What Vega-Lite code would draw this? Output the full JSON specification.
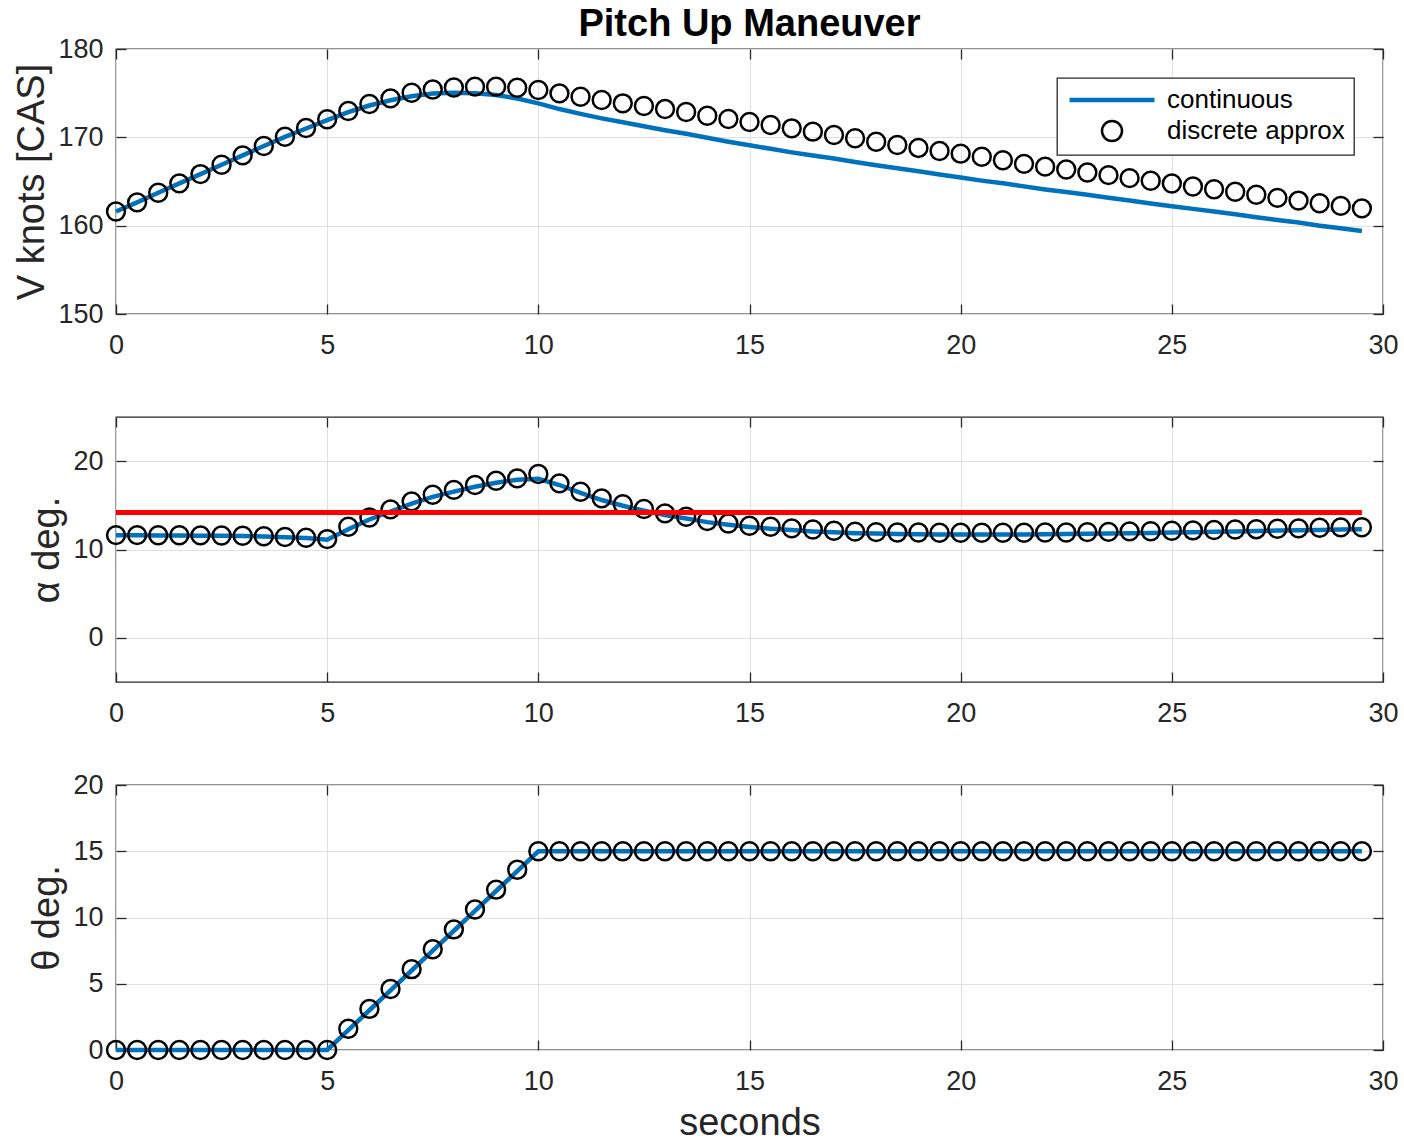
{
  "$schema": "https://vega.github.io/schema/vega-lite/v6.json",
  "padding": {"left": 13, "top": 5, "right": 5, "bottom": 5},
  "background": "white",
  "datasets": {
    "disc": [
      {"t": 0, "V": 161.6, "a": 11.63, "th": 0},
      {"t": 0.5, "V": 162.64, "a": 11.63, "th": 0},
      {"t": 1, "V": 163.73, "a": 11.62, "th": 0},
      {"t": 1.5, "V": 164.79, "a": 11.61, "th": 0},
      {"t": 2, "V": 165.84, "a": 11.6, "th": 0},
      {"t": 2.5, "V": 166.9, "a": 11.58, "th": 0},
      {"t": 3, "V": 167.96, "a": 11.55, "th": 0},
      {"t": 3.5, "V": 169.02, "a": 11.5, "th": 0},
      {"t": 4, "V": 170.07, "a": 11.42, "th": 0},
      {"t": 4.5, "V": 171.05, "a": 11.33, "th": 0},
      {"t": 5, "V": 172.04, "a": 11.18, "th": 0},
      {"t": 5.5, "V": 172.98, "a": 12.57, "th": 1.6},
      {"t": 6, "V": 173.77, "a": 13.63, "th": 3.1},
      {"t": 6.5, "V": 174.41, "a": 14.54, "th": 4.6},
      {"t": 7, "V": 175.05, "a": 15.45, "th": 6.1},
      {"t": 7.5, "V": 175.42, "a": 16.2, "th": 7.6},
      {"t": 8, "V": 175.64, "a": 16.75, "th": 9.1},
      {"t": 8.5, "V": 175.74, "a": 17.3, "th": 10.6},
      {"t": 9, "V": 175.74, "a": 17.78, "th": 12.1},
      {"t": 9.5, "V": 175.62, "a": 18.05, "th": 13.6},
      {"t": 10, "V": 175.36, "a": 18.55, "th": 15},
      {"t": 10.5, "V": 174.98, "a": 17.49, "th": 15},
      {"t": 11, "V": 174.6, "a": 16.54, "th": 15},
      {"t": 11.5, "V": 174.22, "a": 15.79, "th": 15},
      {"t": 12, "V": 173.85, "a": 15.14, "th": 15},
      {"t": 12.5, "V": 173.54, "a": 14.58, "th": 15},
      {"t": 13, "V": 173.2, "a": 14.09, "th": 15},
      {"t": 13.5, "V": 172.87, "a": 13.7, "th": 15},
      {"t": 14, "V": 172.45, "a": 13.22, "th": 15},
      {"t": 14.5, "V": 172.07, "a": 12.95, "th": 15},
      {"t": 15, "V": 171.73, "a": 12.69, "th": 15},
      {"t": 15.5, "V": 171.4, "a": 12.57, "th": 15},
      {"t": 16, "V": 171.02, "a": 12.39, "th": 15},
      {"t": 16.5, "V": 170.64, "a": 12.27, "th": 15},
      {"t": 17, "V": 170.26, "a": 12.12, "th": 15},
      {"t": 17.5, "V": 169.89, "a": 12.02, "th": 15},
      {"t": 18, "V": 169.5, "a": 11.97, "th": 15},
      {"t": 18.5, "V": 169.13, "a": 11.93, "th": 15},
      {"t": 19, "V": 168.8, "a": 11.92, "th": 15},
      {"t": 19.5, "V": 168.45, "a": 11.9, "th": 15},
      {"t": 20, "V": 168.15, "a": 11.9, "th": 15},
      {"t": 20.5, "V": 167.8, "a": 11.9, "th": 15},
      {"t": 21, "V": 167.4, "a": 11.9, "th": 15},
      {"t": 21.5, "V": 167.0, "a": 11.9, "th": 15},
      {"t": 22, "V": 166.68, "a": 11.92, "th": 15},
      {"t": 22.5, "V": 166.36, "a": 11.93, "th": 15},
      {"t": 23, "V": 166.02, "a": 11.97, "th": 15},
      {"t": 23.5, "V": 165.72, "a": 12.0, "th": 15},
      {"t": 24, "V": 165.38, "a": 12.05, "th": 15},
      {"t": 24.5, "V": 165.08, "a": 12.07, "th": 15},
      {"t": 25, "V": 164.78, "a": 12.12, "th": 15},
      {"t": 25.5, "V": 164.44, "a": 12.16, "th": 15},
      {"t": 26, "V": 164.12, "a": 12.2, "th": 15},
      {"t": 26.5, "V": 163.84, "a": 12.27, "th": 15},
      {"t": 27, "V": 163.5, "a": 12.3, "th": 15},
      {"t": 27.5, "V": 163.15, "a": 12.35, "th": 15},
      {"t": 28, "V": 162.84, "a": 12.39, "th": 15},
      {"t": 28.5, "V": 162.54, "a": 12.46, "th": 15},
      {"t": 29, "V": 162.24, "a": 12.5, "th": 15},
      {"t": 29.5, "V": 161.96, "a": 12.52, "th": 15}
    ],
    "cont": [
      {"t": 0, "V": 161.6, "a": 11.6, "th": 0},
      {"t": 0.5, "V": 162.64, "a": 11.6, "th": 0},
      {"t": 1, "V": 163.73, "a": 11.59, "th": 0},
      {"t": 1.5, "V": 164.79, "a": 11.58, "th": 0},
      {"t": 2, "V": 165.84, "a": 11.57, "th": 0},
      {"t": 2.5, "V": 166.9, "a": 11.55, "th": 0},
      {"t": 3, "V": 167.96, "a": 11.52, "th": 0},
      {"t": 3.5, "V": 169.02, "a": 11.47, "th": 0},
      {"t": 4, "V": 170.05, "a": 11.4, "th": 0},
      {"t": 4.5, "V": 171.0, "a": 11.3, "th": 0},
      {"t": 5, "V": 171.95, "a": 11.1, "th": 0},
      {"t": 5.5, "V": 172.85, "a": 12.3, "th": 1.5},
      {"t": 6, "V": 173.6, "a": 13.4, "th": 3},
      {"t": 6.5, "V": 174.2, "a": 14.3, "th": 4.5},
      {"t": 7, "V": 174.65, "a": 15.2, "th": 6},
      {"t": 7.5, "V": 174.95, "a": 15.95, "th": 7.5},
      {"t": 8, "V": 175.05, "a": 16.55, "th": 9},
      {"t": 8.5, "V": 175.0, "a": 17.1, "th": 10.5},
      {"t": 9, "V": 174.8, "a": 17.55, "th": 12},
      {"t": 9.5, "V": 174.4, "a": 17.9, "th": 13.5},
      {"t": 10, "V": 173.85, "a": 18.0, "th": 15},
      {"t": 10.5, "V": 173.2, "a": 17.3, "th": 15},
      {"t": 11, "V": 172.65, "a": 16.4, "th": 15},
      {"t": 11.5, "V": 172.15, "a": 15.6, "th": 15},
      {"t": 12, "V": 171.7, "a": 14.95, "th": 15},
      {"t": 12.5, "V": 171.25, "a": 14.4, "th": 15},
      {"t": 13, "V": 170.8, "a": 13.9, "th": 15},
      {"t": 13.5, "V": 170.4, "a": 13.5, "th": 15},
      {"t": 14, "V": 169.95, "a": 13.1, "th": 15},
      {"t": 14.5, "V": 169.5, "a": 12.8, "th": 15},
      {"t": 15, "V": 169.1, "a": 12.55, "th": 15},
      {"t": 15.5, "V": 168.7, "a": 12.35, "th": 15},
      {"t": 16, "V": 168.3, "a": 12.2, "th": 15},
      {"t": 16.5, "V": 167.95, "a": 12.05, "th": 15},
      {"t": 17, "V": 167.6, "a": 11.95, "th": 15},
      {"t": 17.5, "V": 167.2, "a": 11.85, "th": 15},
      {"t": 18, "V": 166.85, "a": 11.8, "th": 15},
      {"t": 18.5, "V": 166.5, "a": 11.75, "th": 15},
      {"t": 19, "V": 166.15, "a": 11.72, "th": 15},
      {"t": 19.5, "V": 165.8, "a": 11.7, "th": 15},
      {"t": 20, "V": 165.45, "a": 11.7, "th": 15},
      {"t": 20.5, "V": 165.1, "a": 11.7, "th": 15},
      {"t": 21, "V": 164.8, "a": 11.7, "th": 15},
      {"t": 21.5, "V": 164.45, "a": 11.71, "th": 15},
      {"t": 22, "V": 164.1, "a": 11.72, "th": 15},
      {"t": 22.5, "V": 163.8, "a": 11.75, "th": 15},
      {"t": 23, "V": 163.5, "a": 11.78, "th": 15},
      {"t": 23.5, "V": 163.15, "a": 11.82, "th": 15},
      {"t": 24, "V": 162.85, "a": 11.85, "th": 15},
      {"t": 24.5, "V": 162.5, "a": 11.88, "th": 15},
      {"t": 25, "V": 162.2, "a": 11.92, "th": 15},
      {"t": 25.5, "V": 161.9, "a": 11.96, "th": 15},
      {"t": 26, "V": 161.6, "a": 12.0, "th": 15},
      {"t": 26.5, "V": 161.3, "a": 12.05, "th": 15},
      {"t": 27, "V": 160.95, "a": 12.1, "th": 15},
      {"t": 27.5, "V": 160.65, "a": 12.14, "th": 15},
      {"t": 28, "V": 160.35, "a": 12.18, "th": 15},
      {"t": 28.5, "V": 160.0, "a": 12.22, "th": 15},
      {"t": 29, "V": 159.7, "a": 12.27, "th": 15},
      {"t": 29.5, "V": 159.4, "a": 12.3, "th": 15}
    ],
    "lim": [
      {"t": 0, "a": 14.2},
      {"t": 29.5, "a": 14.2}
    ]
  },
  "vconcat": [
    {
      "width": 1267,
      "height": 265,
      "title": {"text": "Pitch Up Maneuver", "fontSize": 38, "fontWeight": "bold", "color": "#000000", "font": "Liberation Sans", "anchor": "middle", "frame": "group", "offset": -9},
      "layer": [
        {
          "data": {"name": "cont"},
          "mark": {"type": "line", "strokeWidth": 4.5},
          "encoding": {
            "x": {"field": "t", "type": "quantitative", "scale": {"domain": [0, 30], "nice": false}, "axis": {"values": [0, 5, 10, 15, 20, 25, 30], "title": null, "orient": "bottom"}},
            "y": {"field": "V", "type": "quantitative", "scale": {"domain": [150, 180], "nice": false, "zero": false}, "axis": {"values": [150, 160, 170, 180], "title": "V knots [CAS]", "orient": "left"}},
            "color": {"datum": "continuous", "scale": {"domain": ["continuous", "discrete approx"], "range": ["#0072BD", "#000000"]}, "legend": {"title": null, "encoding": {"symbols": {"strokeWidth": {"value": {"expr": "datum.value == 'continuous' ? 4.5 : 2.5"}}}}}}
          }
        },
        {
          "data": {"name": "disc"},
          "mark": {"type": "point", "filled": false, "strokeWidth": 2.5, "size": 320, "opacity": 1},
          "encoding": {
            "x": {"field": "t", "type": "quantitative", "axis": null},
            "y": {"field": "V", "type": "quantitative", "axis": null},
            "color": {"datum": "discrete approx"},
            "shape": {"datum": "discrete approx", "scale": {"domain": ["continuous", "discrete approx"], "range": ["M-4.25,0L4.25,0", "circle"]}, "legend": {"title": null}}
          }
        },
        {
          "data": {"name": "disc"},
          "mark": {"type": "point", "opacity": 0},
          "encoding": {
            "x": {"field": "t", "type": "quantitative", "axis": {"orient": "top", "labels": false, "grid": false, "title": null, "values": [0, 5, 10, 15, 20, 25, 30]}},
            "y": {"field": "V", "type": "quantitative", "axis": {"orient": "right", "labels": false, "grid": false, "title": null, "values": [150, 160, 170, 180]}}
          }
        }
      ],
      "resolve": {"axis": {"x": "independent", "y": "independent"}}
    },
    {
      "width": 1267,
      "height": 265,
      "layer": [
        {
          "data": {"name": "cont"},
          "mark": {"type": "line", "strokeWidth": 4.5, "color": "#0072BD"},
          "encoding": {
            "x": {"field": "t", "type": "quantitative", "scale": {"domain": [0, 30], "nice": false}, "axis": {"values": [0, 5, 10, 15, 20, 25, 30], "title": null, "orient": "bottom"}},
            "y": {"field": "a", "type": "quantitative", "scale": {"domain": [-5, 25], "nice": false, "zero": false}, "axis": {"values": [0, 10, 20], "title": "α deg.", "orient": "left"}}
          }
        },
        {
          "data": {"name": "disc"},
          "mark": {"type": "point", "filled": false, "strokeWidth": 2.5, "size": 320, "opacity": 1, "color": "#000000", "shape": "circle"},
          "encoding": {
            "x": {"field": "t", "type": "quantitative", "axis": null},
            "y": {"field": "a", "type": "quantitative", "axis": null}
          }
        },
        {
          "data": {"name": "lim"},
          "mark": {"type": "line", "strokeWidth": 5, "color": "#FF0000"},
          "encoding": {
            "x": {"field": "t", "type": "quantitative", "axis": null},
            "y": {"field": "a", "type": "quantitative", "axis": null}
          }
        },
        {
          "data": {"name": "disc"},
          "mark": {"type": "point", "opacity": 0},
          "encoding": {
            "x": {"field": "t", "type": "quantitative", "axis": {"orient": "top", "labels": false, "grid": false, "title": null, "values": [0, 5, 10, 15, 20, 25, 30]}},
            "y": {"field": "a", "type": "quantitative", "axis": {"orient": "right", "labels": false, "grid": false, "title": null, "values": [0, 10, 20]}}
          }
        }
      ],
      "resolve": {"axis": {"x": "independent", "y": "independent"}}
    },
    {
      "width": 1267,
      "height": 265,
      "layer": [
        {
          "data": {"name": "cont"},
          "mark": {"type": "line", "strokeWidth": 4.5, "color": "#0072BD"},
          "encoding": {
            "x": {"field": "t", "type": "quantitative", "scale": {"domain": [0, 30], "nice": false}, "axis": {"values": [0, 5, 10, 15, 20, 25, 30], "title": "seconds", "orient": "bottom"}},
            "y": {"field": "th", "type": "quantitative", "scale": {"domain": [0, 20], "nice": false, "zero": false}, "axis": {"values": [0, 5, 10, 15, 20], "title": "θ deg.", "orient": "left"}}
          }
        },
        {
          "data": {"name": "disc"},
          "mark": {"type": "point", "filled": false, "strokeWidth": 2.5, "size": 320, "opacity": 1, "color": "#000000", "shape": "circle"},
          "encoding": {
            "x": {"field": "t", "type": "quantitative", "axis": null},
            "y": {"field": "th", "type": "quantitative", "axis": null}
          }
        },
        {
          "data": {"name": "disc"},
          "mark": {"type": "point", "opacity": 0},
          "encoding": {
            "x": {"field": "t", "type": "quantitative", "axis": {"orient": "top", "labels": false, "grid": false, "title": null, "values": [0, 5, 10, 15, 20, 25, 30]}},
            "y": {"field": "th", "type": "quantitative", "axis": {"orient": "right", "labels": false, "grid": false, "title": null, "values": [0, 5, 10, 15, 20]}}
          }
        }
      ],
      "resolve": {"axis": {"x": "independent", "y": "independent"}}
    }
  ],
  "spacing": 103,
  "bounds": "flush",
  "config": {
    "font": "Liberation Sans",
    "view": {"stroke": "#262626", "strokeWidth": 1.3},
    "axis": {
      "domain": false,
      "tickColor": "#262626",
      "tickWidth": 1.3,
      "tickSize": -10,
      "labelFont": "Liberation Sans",
      "labelFontSize": 27,
      "labelColor": "#262626",
      "labelFlush": false,
      "labelOverlap": false,
      "titleFont": "Liberation Sans",
      "titleFontSize": 38,
      "titleFontWeight": "normal",
      "titleColor": "#262626",
      "gridColor": "#dfdfdf",
      "gridWidth": 1
    },
    "axisX": {"labelPadding": 28, "titlePadding": 10},
    "axisY": {"labelPadding": 23, "titlePadding": 6},
    "legend": {
      "orient": "top-right",
      "offset": 29,
      "strokeColor": "#262626",
      "strokeWidth": 1.3,
      "fillColor": "#ffffff",
      "padding": 9,
      "cornerRadius": 0,
      "labelFont": "Liberation Sans",
      "labelFontSize": 26,
      "labelColor": "#000000",
      "labelLimit": 400,
      "symbolSize": 400,
      "symbolStrokeWidth": 3.5,
      "rowPadding": 3,
      "symbolOffset": 33,
      "labelOffset": 42
    }
  }
}
